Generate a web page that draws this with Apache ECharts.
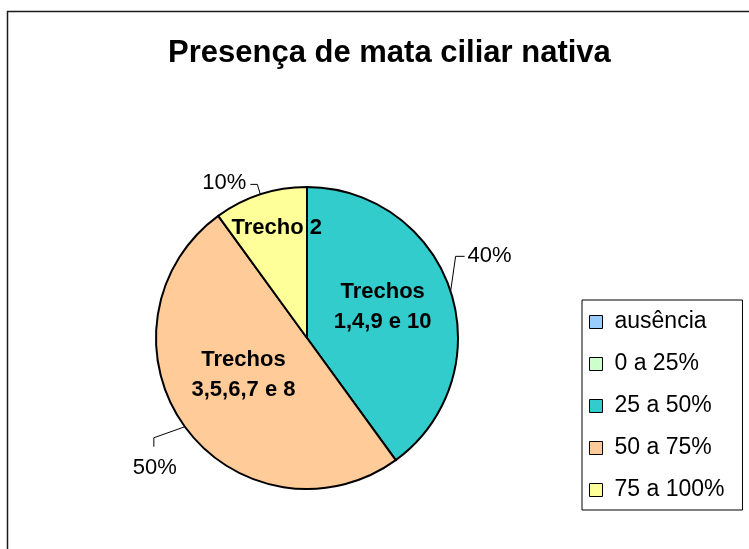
<!DOCTYPE html>
<html>
<head>
<meta charset="utf-8">
<script src="https://cdn.jsdelivr.net/npm/echarts@6/dist/echarts.min.js"></script>
<style>
  html, body { margin: 0; padding: 0; background: #ffffff; }
  #chart { width: 749px; height: 549px; }
</style>
</head>
<body>
<div id="chart"></div>
<script>
// Classes of native riparian forest cover and the share of stretches in each
const categories = ['ausência', '0 a 25%', '25 a 50%', '50 a 75%', '75 a 100%'];
const shares = [0, 0, 40, 50, 10];
const sliceColors = ['#99CCFF', '#CCFFCC', '#33CCCC', '#FFCC99', '#FFFF99'];
const stretchNotes = ['', '', 'Trechos\n1,4,9 e 10', 'Trechos\n3,5,6,7 e 8', 'Trecho 2'];
const chartTitle = 'Presença de mata ciliar nativa';

const FONT = '"Liberation Sans", Arial, sans-serif';
const CENTER = [307, 338];
const RADIUS = 151;

// Leader line bends and text anchors, relative to where each line leaves the pie
const leaderGeom = {
  2: { elbow: [5, -35], end: [14, -35], text: [17, -35], align: 'left' },
  3: { elbow: [-31, 11], end: [-31, 20], text: [-30, 41], align: 'center' },
  4: { elbow: [-3, -10], end: [-10, -10], text: [-14, -11], align: 'right' }
};
// Nudges for the stretch notes drawn inside the slices
const noteShift = { 2: [1, -7], 3: [0, -9], 4: [-6, -35] };

const chart = echarts.init(document.getElementById('chart'), null, { renderer: 'canvas' });

const mainData = categories.map((name, i) => {
  const item = { name: name, value: shares[i], itemStyle: { color: sliceColors[i] } };
  if (shares[i] === 0) {
    item.label = { show: false };
    item.labelLine = { show: false };
  }
  return item;
});

const noteData = categories.map((name, i) => {
  const item = { name: name, value: shares[i] };
  if (!stretchNotes[i]) item.label = { show: false };
  return item;
});

chart.setOption({
  animation: false,
  backgroundColor: '#ffffff',
  title: {
    text: chartTitle,
    left: 163,
    top: 33,
    textStyle: { fontFamily: FONT, fontSize: 31, fontWeight: 'bold', color: '#000000' }
  },
  legend: {
    orient: 'vertical',
    left: 582,
    top: 300,
    data: categories,
    icon: 'rect',
    itemWidth: 13,
    itemHeight: 13,
    itemGap: 16,
    padding: [9, 18, 7, 7],
    borderColor: '#000000',
    borderWidth: 1,
    selectedMode: false,
    itemStyle: { borderColor: '#000000', borderWidth: 1 },
    textStyle: { fontFamily: FONT, fontSize: 23, lineHeight: 26, color: '#000000', padding: [0, 0, 0, 7] }
  },
  graphic: [{
    type: 'rect',
    silent: true,
    z: -10,
    shape: { x: 7.5, y: 11.5, width: 800, height: 600 },
    style: { fill: null, stroke: '#1a1a1a', lineWidth: 1.5 }
  }],
  series: [
    {
      type: 'pie',
      center: CENTER,
      radius: RADIUS,
      startAngle: 90,
      clockwise: true,
      avoidLabelOverlap: false,
      emphasis: { disabled: true, scale: false },
      itemStyle: { borderColor: '#000000', borderWidth: 2 },
      label: {
        show: true,
        position: 'outside',
        formatter: '{d}%',
        fontFamily: FONT,
        fontSize: 22,
        color: '#000000'
      },
      labelLine: { show: true, length: 10, length2: 8, lineStyle: { color: '#000000', width: 1 } },
      labelLayout: function (p) {
        const g = leaderGeom[p.dataIndex];
        if (!g || !p.labelLinePoints) return {};
        const a = p.labelLinePoints[0];
        return {
          x: a[0] + g.text[0],
          y: a[1] + g.text[1],
          align: g.align,
          verticalAlign: 'middle',
          labelLinePoints: [
            [a[0], a[1]],
            [a[0] + g.elbow[0], a[1] + g.elbow[1]],
            [a[0] + g.end[0], a[1] + g.end[1]]
          ]
        };
      },
      data: mainData
    },
    {
      type: 'pie',
      silent: true,
      center: CENTER,
      radius: RADIUS,
      startAngle: 90,
      clockwise: true,
      z: 3,
      emphasis: { disabled: true, scale: false },
      itemStyle: { color: 'rgba(0,0,0,0)', borderWidth: 0 },
      label: {
        show: true,
        position: 'inside',
        formatter: p => stretchNotes[p.dataIndex],
        fontFamily: FONT,
        fontSize: 22,
        fontWeight: 'bold',
        lineHeight: 30,
        color: '#000000'
      },
      labelLine: { show: false },
      labelLayout: function (p) {
        const s = noteShift[p.dataIndex];
        return s ? { dx: s[0], dy: s[1] } : {};
      },
      data: noteData
    }
  ]
});
</script>
</body>
</html>
